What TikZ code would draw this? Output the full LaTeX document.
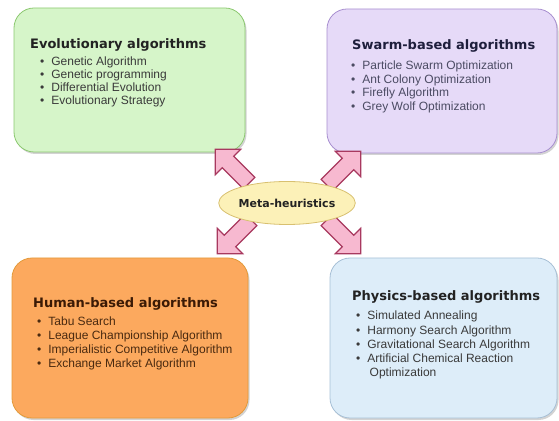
\documentclass[tikz,border=0pt]{standalone}
\usepackage{fontspec}
\setmainfont{Liberation Sans}
\newfontfamily\titlefont{DejaVu Sans}
\usetikzlibrary{shapes.geometric,shapes.arrows,shadows}
\definecolor{gfill}{HTML}{D6F5C9}
\definecolor{gdraw}{HTML}{8CC870}
\definecolor{pfill}{HTML}{E6DAF8}
\definecolor{pdraw}{HTML}{A88FD0}
\definecolor{ofill}{HTML}{FCA95E}
\definecolor{odraw}{HTML}{E39A3A}
\definecolor{bfill}{HTML}{DDEDF9}
\definecolor{bdraw}{HTML}{A7C0D6}
\definecolor{efill}{HTML}{FCF1B8}
\definecolor{edraw}{HTML}{D8C070}
\definecolor{afill}{HTML}{F7B9D0}
\definecolor{adraw}{HTML}{A8395F}
\definecolor{darktxt}{HTML}{222222}
\definecolor{itemtxt}{HTML}{3A3A3A}
\definecolor{navytxt}{HTML}{1E1E3C}
\definecolor{browntxt}{HTML}{3B1A05}
\definecolor{brownitem}{HTML}{4A2A10}
\tikzset{
  catbox/.style={rectangle, rounded corners=20pt, line width=0.8pt,
    drop shadow={shadow xshift=1.5pt, shadow yshift=-2pt, opacity=0.35, fill=gray}},
  cattitle/.style={anchor=mid west, inner sep=0pt, font=\titlefont\bfseries\fontsize{13}{15}\selectfont},
  catitem/.style={anchor=mid west, inner sep=0pt, font=\fontsize{12}{14}\selectfont},
  blockarrow/.style={single arrow, draw=adraw, fill=afill, line width=1.2pt,
    inner xsep=0pt, inner ysep=7.5pt, single arrow head extend=10pt,
    single arrow tip angle=90, minimum height=48pt, font=\tiny},
}
\begin{document}
\begin{tikzpicture}[x=1pt,y=1pt]
\useasboundingbox (0,0) rectangle (559,420);
% boxes
\node[catbox, fill=gfill, draw=gdraw, minimum width=231pt, minimum height=144pt] (evo) at (129.5,340) {};
\node[catbox, fill=pfill, draw=pdraw, minimum width=230pt, minimum height=144pt] (swarm) at (442,339) {};
\node[catbox, fill=ofill, draw=odraw, minimum width=236pt, minimum height=160pt] (human) at (130,82) {};
\node[catbox, fill=bfill, draw=bdraw, minimum width=227pt, minimum height=160pt] (phys) at (443.5,82) {};
% green texts
\node[cattitle, text=darktxt] (evoT) at (30,374) {Evolutionary algorithms};
\node[catitem, text=itemtxt] (evo1) at (40,357) {•\hspace{7pt}Genetic Algorithm};
\node[catitem, text=itemtxt] (evo2) at (40,344) {•\hspace{7pt}Genetic programming};
\node[catitem, text=itemtxt] (evo3) at (40,331) {•\hspace{7pt}Differential Evolution};
\node[catitem, text=itemtxt] (evo4) at (40,318) {•\hspace{7pt}Evolutionary Strategy};
% purple texts
\node[cattitle, text=navytxt] (swT) at (352,373) {Swarm-based algorithms};
\node[catitem, text=navytxt!80!white] (sw1) at (351,353) {•\hspace{7pt}Particle Swarm Optimization};
\node[catitem, text=navytxt!80!white] (sw2) at (351,339.5) {•\hspace{7pt}Ant Colony Optimization};
\node[catitem, text=navytxt!80!white] (sw3) at (351,326) {•\hspace{7pt}Firefly Algorithm};
\node[catitem, text=navytxt!80!white] (sw4) at (351,312.5) {•\hspace{7pt}Grey Wolf Optimization};
% orange texts
\node[cattitle, text=browntxt] (huT) at (33,115) {Human-based algorithms};
\node[catitem, text=brownitem] (hu1) at (37,97) {•\hspace{7pt}Tabu Search};
\node[catitem, text=brownitem] (hu2) at (37,83) {•\hspace{7pt}League Championship Algorithm};
\node[catitem, text=brownitem] (hu3) at (37,69) {•\hspace{7pt}Imperialistic Competitive Algorithm};
\node[catitem, text=brownitem] (hu4) at (37,55) {•\hspace{7pt}Exchange Market Algorithm};
% blue texts
\node[cattitle, text=darktxt] (phT) at (352,122) {Physics-based algorithms};
\node[catitem, text=itemtxt] (ph1) at (356,103) {•\hspace{7pt}Simulated Annealing};
\node[catitem, text=itemtxt] (ph2) at (356,88.5) {•\hspace{7pt}Harmony Search Algorithm};
\node[catitem, text=itemtxt] (ph3) at (356,74) {•\hspace{7pt}Gravitational Search Algorithm};
\node[catitem, text=itemtxt] (ph4) at (356,60) {•\hspace{7pt}Artificial Chemical Reaction};
\node[catitem, text=itemtxt] (ph5) at (369.5,46.5) {Optimization};
% arrows
\node[blockarrow, rotate=135] (aUL) at (235,251) {};
\node[blockarrow, rotate=45] (aUR) at (341,249) {};
\node[blockarrow, rotate=225] (aLL) at (237,186) {};
\node[blockarrow, rotate=-45] (aLR) at (341,186) {};
% center
\node[ellipse, fill=efill, draw=edraw, line width=0.8pt, minimum width=105pt, minimum height=43pt, inner sep=0pt,
  font=\titlefont\bfseries\fontsize{11}{13}\selectfont, text=darktxt] (meta) at (287,217) {Meta-heuristics};
\end{tikzpicture}
\end{document}
